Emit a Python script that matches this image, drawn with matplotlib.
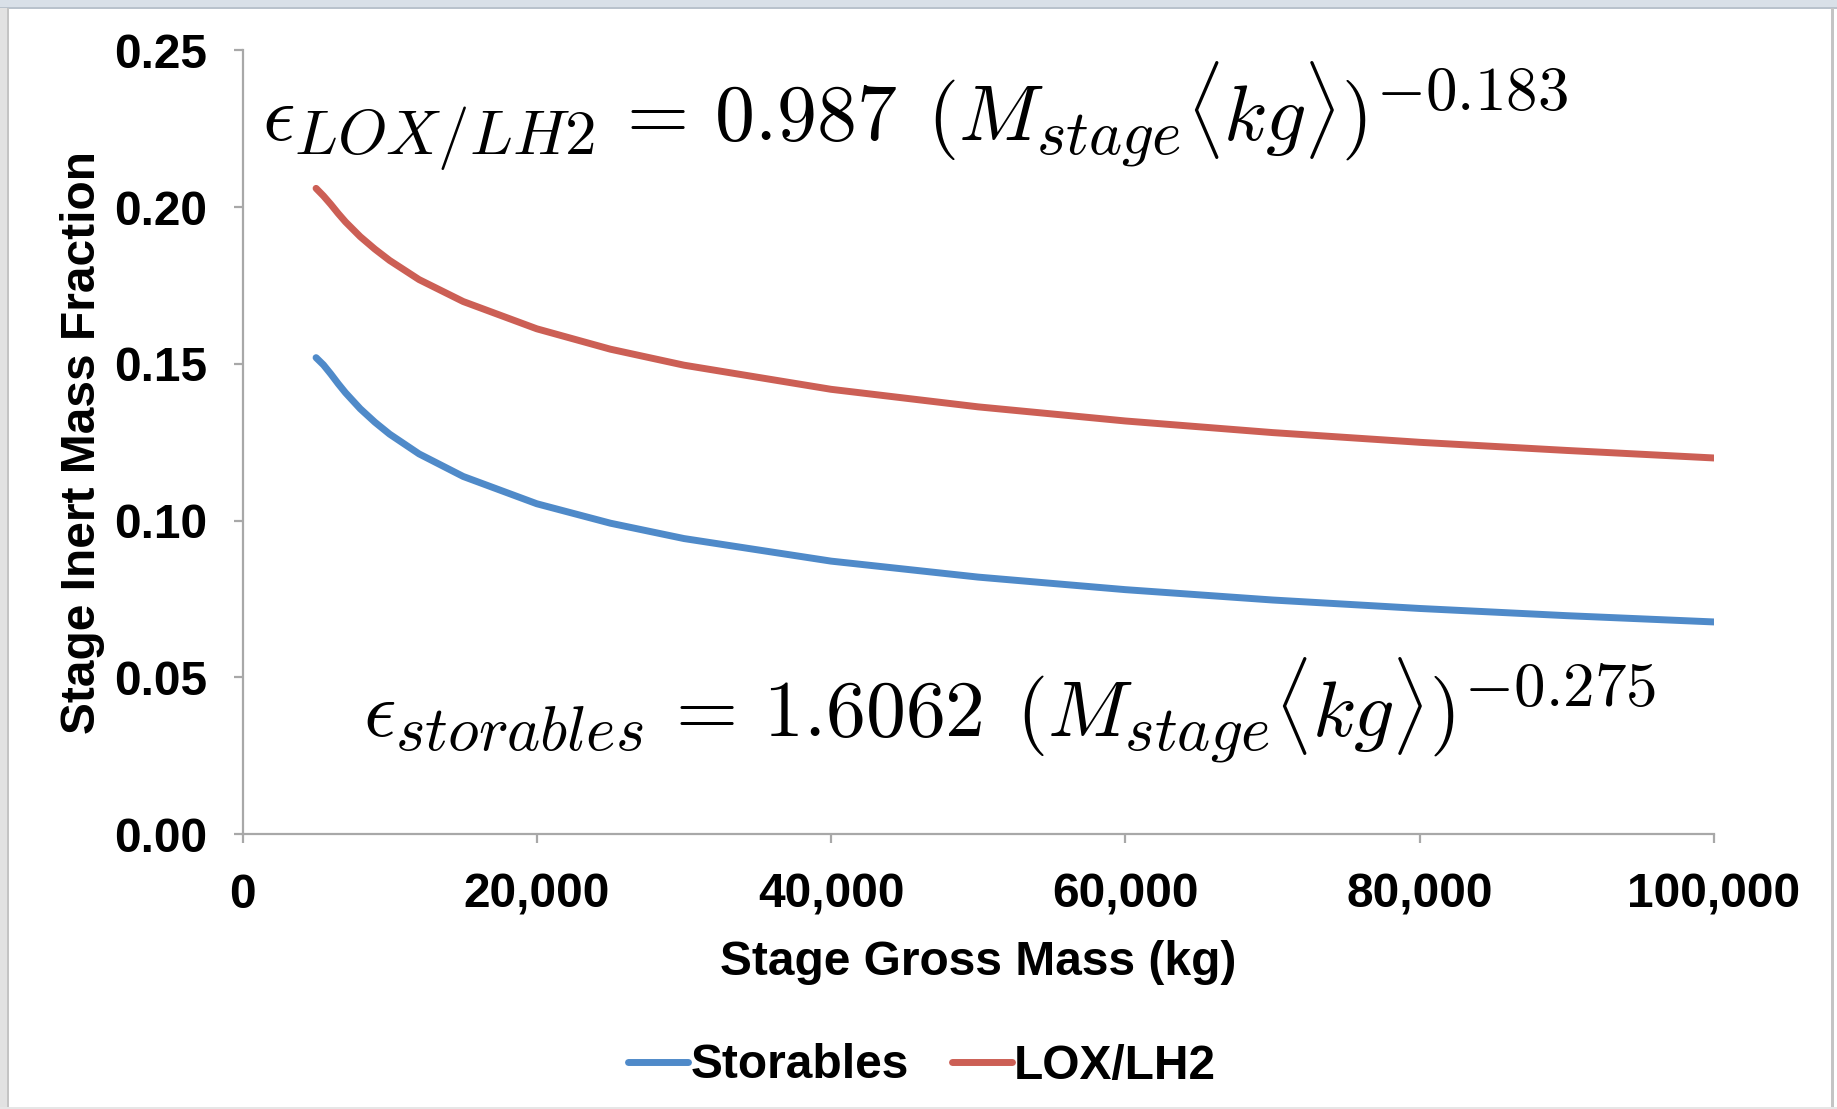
import matplotlib; matplotlib.use("Agg")
import matplotlib.pyplot as plt
import matplotlib._mathtext as mtx
from matplotlib.patches import Rectangle
from matplotlib.ticker import FuncFormatter

# values
mass = [5000, 5500, 6000, 6500, 7000, 8000, 9000, 10000, 12000, 15000, 20000, 25000, 30000,
        40000, 50000, 60000, 70000, 80000, 90000, 100000]
storables = [0.152, 0.1497, 0.1468, 0.1437, 0.1408, 0.1357, 0.1314, 0.1276, 0.1213, 0.1141,
             0.1054, 0.0992, 0.0943, 0.0871, 0.0820, 0.0780, 0.0747, 0.0720, 0.0697, 0.0677]
lox_lh2 = [0.206, 0.2036, 0.2009, 0.1980, 0.1953, 0.1906, 0.1866, 0.1830, 0.1769, 0.1699,
           0.1612, 0.1547, 0.1496, 0.1419, 0.1363, 0.1318, 0.1281, 0.1250, 0.1224, 0.1200]
xticks = [0, 20000, 40000, 60000, 80000, 100000]
yticks = [0.00, 0.05, 0.10, 0.15, 0.20, 0.25]

plt.rcParams["font.family"] = ["Liberation Sans", "DejaVu Sans"]
plt.rcParams["font.weight"] = "bold"
plt.rcParams["mathtext.fontset"] = "cm"
mtx.SHRINK_FACTOR = 0.79  # sub/superscripts a bit larger, like the LaTeX render

W, H = 1837, 1109
fig = plt.figure(figsize=(W/100, H/100), dpi=100)
fig.patch.set_facecolor("white")

# window frame bits
fig.patches.append(Rectangle((0, 1-8/H), 1, 8/H, transform=fig.transFigure, fc="#d9e0e8", ec="none"))
fig.patches.append(Rectangle((0, 1-9/H), 1, 1.5/H, transform=fig.transFigure, fc="#b9c2cc", ec="none"))
fig.patches.append(Rectangle((0, 0), 8/W, 1-8/H, transform=fig.transFigure, fc="#e2e2e2", ec="none"))
fig.patches.append(Rectangle((7/W, 0), 2/W, 1-8/H, transform=fig.transFigure, fc="#c4c4c4", ec="none"))
fig.patches.append(Rectangle((1831/W, 0), 3/W, 1-8/H, transform=fig.transFigure, fc="#c4c4c4", ec="none"))
fig.patches.append(Rectangle((0, 0), 1, 2/H, transform=fig.transFigure, fc="#e6e6e6", ec="none"))

ax = fig.add_axes([242.5/W, 1-834.2/H, (1714-242.5)/W, (834.2-50.4)/H])
ax.plot(mass, storables, color="#4f8ac9", lw=5, solid_capstyle="round", label="Storables")
ax.plot(mass, lox_lh2, color="#cc5f55", lw=5, solid_capstyle="round", label="LOX/LH2")

ax.set_xlim(0, 100000)
ax.set_ylim(0, 0.25)
ax.set_xticks(xticks)
ax.set_yticks(yticks)
ax.xaxis.set_major_formatter(FuncFormatter(lambda v, p: f"{int(v):,}"))
ax.yaxis.set_major_formatter(FuncFormatter(lambda v, p: f"{v:.2f}"))
for s in ["top", "right"]:
    ax.spines[s].set_visible(False)
for s in ["left", "bottom"]:
    ax.spines[s].set_color("#a8a8a8")
    ax.spines[s].set_linewidth(1.6)
ax.tick_params(axis="both", direction="out", length=6.8, width=1.6, color="#a8a8a8",
               labelsize=34.5)
ax.tick_params(axis="y", pad=18.5)
ax.tick_params(axis="x", pad=21)
ax.set_xlabel("Stage Gross Mass (kg)", fontsize=34.5, fontweight="bold", labelpad=16)
ax.set_ylabel("Stage Inert Mass Fraction", fontsize=34.5, fontweight="bold", labelpad=7)

fig.text(262/W, 1-141/H,
         r"$\epsilon_{LOX/LH2}\,=\,0.987\:\:(M_{stage}\langle kg\rangle)^{-0.183}$",
         fontsize=57.5, ha="left", va="baseline")
fig.text(363/W, 1-736/H,
         r"$\epsilon_{storables}\,=\,1.6062\:\:(M_{stage}\langle kg\rangle)^{-0.275}$",
         fontsize=57.5, ha="left", va="baseline")

fig.legend(loc="center", bbox_to_anchor=(0.502, 1-1066/H), ncol=2, frameon=False,
           fontsize=34.5, handlelength=1.25, handletextpad=0.05, columnspacing=0.9)

fig.savefig("out.png", dpi=100)
